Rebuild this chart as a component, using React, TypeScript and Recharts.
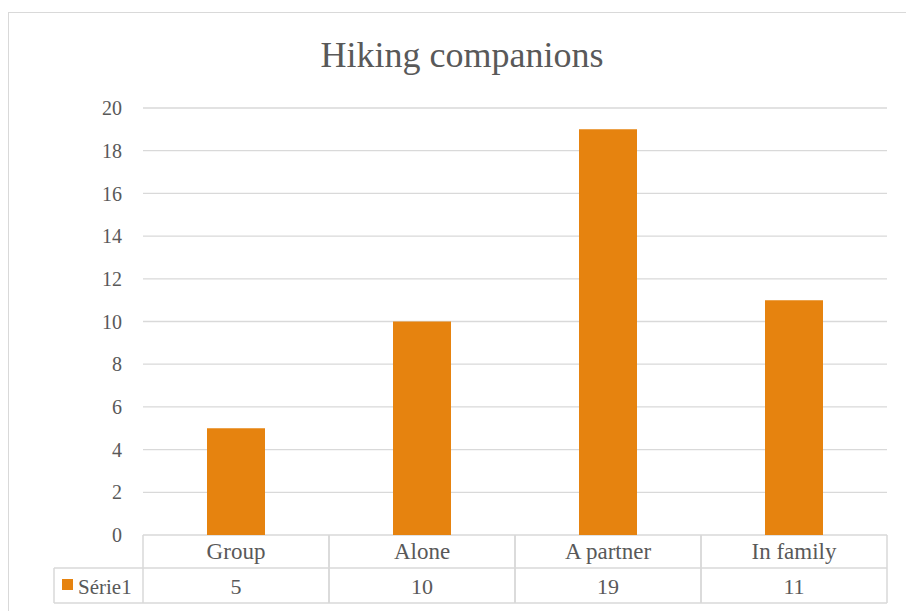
import React from "react";
import {
  BarChart,
  Bar,
  XAxis,
  YAxis,
  CartesianGrid,
  Customized,
} from "recharts";

const categories = ["Group", "Alone", "A partner", "In family"];
const serie1 = [5, 10, 19, 11];
const seriesName = "Série1";
const yTicks = [0, 2, 4, 6, 8, 10, 12, 14, 16, 18, 20];

const data = categories.map((name, i) => ({ name, value: serie1[i] }));

const W = 906;
const H = 611;
const MARGIN = { top: 108, right: 19, bottom: 0, left: 83 };
const Y_AXIS_W = 60;
const X_AXIS_H = 76;
const COL_W = (W - MARGIN.left - Y_AXIS_W - MARGIN.right) / categories.length;
const ROW1_H = 33;
const ROW2_H = 35;
const LEGEND_W = 89;

const ORANGE = "#E6830F";
const GRID = "#D9D9D9";
const TEXT = "#595959";
const FONT = "Liberation Serif";

// category labels + data table drawn under the plot
const TableTick = (props: any) => {
  const { x, y, index, payload } = props;
  const left = x - COL_W / 2;
  const right = x + COL_W / 2;
  const bottom = y + ROW1_H + ROW2_H;
  return (
    <g>
      <line x1={left} y1={y} x2={left} y2={bottom} stroke={GRID} strokeWidth={1.5} />
      <line x1={right} y1={y} x2={right} y2={bottom} stroke={GRID} strokeWidth={1.5} />
      <line x1={left} y1={y + ROW1_H} x2={right} y2={y + ROW1_H} stroke={GRID} strokeWidth={1.5} />
      <line x1={left} y1={bottom} x2={right} y2={bottom} stroke={GRID} strokeWidth={1.5} />
      <text x={x} y={y + 24} textAnchor="middle" fill={TEXT} fontSize={23} fontFamily={FONT}>
        {payload.value}
      </text>
      <text x={x} y={y + ROW1_H + 26} textAnchor="middle" fill={TEXT} fontSize={22} fontFamily={FONT}>
        {serie1[index]}
      </text>
      {index === 0 && (
        <g>
          <line x1={left - LEGEND_W} y1={y + ROW1_H} x2={left} y2={y + ROW1_H} stroke={GRID} strokeWidth={1.5} />
          <line x1={left - LEGEND_W} y1={bottom} x2={left} y2={bottom} stroke={GRID} strokeWidth={1.5} />
          <line x1={left - LEGEND_W} y1={y + ROW1_H} x2={left - LEGEND_W} y2={bottom} stroke={GRID} strokeWidth={1.5} />
          <rect x={left - LEGEND_W + 8} y={y + ROW1_H + 11} width={11} height={11} fill={ORANGE} />
          <text x={left - LEGEND_W + 24} y={y + ROW1_H + 26} fill={TEXT} fontSize={21} fontFamily={FONT}>
            {seriesName}
          </text>
        </g>
      )}
    </g>
  );
};

const Title = () => (
  <text x={462} y={67} textAnchor="middle" fill={TEXT} fontSize={36} fontFamily={FONT}>
    Hiking companions
  </text>
);

export default function App() {
  return (
    <div style={{ position: "fixed", left: 0, top: 0, width: W, height: H, overflow: "hidden", background: "#fff" }}>
      <div
        style={{
          position: "absolute",
          left: 8,
          top: 12,
          width: W + 20,
          height: H + 20,
          border: `1.5px solid ${GRID}`,
        }}
      />
      <BarChart width={W} height={H} data={data} margin={MARGIN} barSize={58}>
        <CartesianGrid vertical={false} stroke={GRID} strokeWidth={1.3} />
        <XAxis
          dataKey="name"
          height={X_AXIS_H}
          axisLine={false}
          tickLine={false}
          tickSize={0}
          tickMargin={0}
          interval={0}
          tick={<TableTick />}
        />
        <YAxis
          width={Y_AXIS_W}
          domain={[0, 20]}
          ticks={yTicks}
          axisLine={false}
          tickLine={false}
          tickMargin={15}
          tick={{ fill: TEXT, fontSize: 20, fontFamily: FONT }}
        />
        <Bar dataKey="value" fill={ORANGE} isAnimationActive={false} />
        <Customized component={Title} />
      </BarChart>
    </div>
  );
}
